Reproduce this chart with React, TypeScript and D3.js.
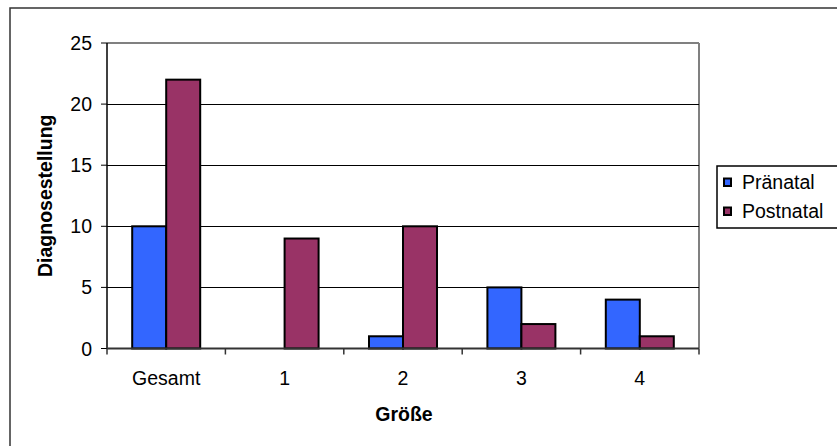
import React from "react";
import * as d3 from "d3";

const categories = ["Gesamt", "1", "2", "3", "4"];
const praenatal = [10, 0, 1, 5, 4];
const postnatal = [22, 9, 10, 2, 1];
const seriesNames = ["Pränatal", "Postnatal"];
const seriesColors = ["#3366FF", "#993366"];
const yTicks = [0, 5, 10, 15, 20, 25];

const W = 837;
const H = 446;
const FONT = "'Liberation Sans', Arial, sans-serif";

const App = () => {
  const left = 107;
  const right = 699;
  const top = 43;
  const bottom = 348.5;

  const x = d3.scaleBand().domain(categories).range([left, right]);
  const y = d3.scaleLinear().domain([0, 25]).range([bottom, top]);
  const barW = 34;
  const inner = d3
    .scaleBand()
    .domain(seriesNames)
    .range([-barW, barW]);

  const values = [praenatal, postnatal];
  const boundaries = categories.map((c) => x(c)).concat([right]);

  return (
    <svg width={W} height={H} style={{ position: "absolute", left: 0, top: 0, background: "#fff" }}>
      <rect x={0} y={0} width={W} height={H} fill="#fff" />
      {/* outer frame */}
      <rect x={10} y={8} width={W + 20} height={H + 20} fill="none" stroke="#333" strokeWidth={1.5} />

      {/* plot border top/right */}
      <line x1={left} x2={right} y1={top} y2={top} stroke="#808080" strokeWidth={2} />
      <line x1={right} x2={right} y1={top} y2={bottom} stroke="#808080" strokeWidth={2} />

      {/* gridlines */}
      {yTicks
        .filter((t) => t > 0 && t < 25)
        .map((t) => (
          <line key={t} x1={left} x2={right} y1={Math.round(y(t)) + 0.5} y2={Math.round(y(t)) + 0.5} stroke="#000" strokeWidth={1} />
        ))}

      {/* bars */}
      {seriesNames.map((s, si) =>
        categories.map((c, ci) => {
          const cx = x(c) + x.bandwidth() / 2;
          const v = values[si][ci];
          if (v === 0) return null;
          return (
            <rect
              key={s + c}
              x={cx + inner(s)}
              y={y(v)}
              width={inner.bandwidth()}
              height={bottom - y(v)}
              fill={seriesColors[si]}
              stroke="#000"
              strokeWidth={2}
            />
          );
        })
      )}

      {/* y axis */}
      <line x1={left} x2={left} y1={top} y2={bottom} stroke="#000" strokeWidth={1.5} />
      {yTicks.map((t) => (
        <g key={t}>
          <line x1={left - 6} x2={left} y1={y(t)} y2={y(t)} stroke="#000" strokeWidth={1} />
          <text x={92} y={y(t)} dy="0.36em" textAnchor="end" fontFamily={FONT} fontSize={19.5} fill="#000">
            {t}
          </text>
        </g>
      ))}

      {/* x axis */}
      <line x1={left} x2={right} y1={bottom} y2={bottom} stroke="#333" strokeWidth={2} />
      {boundaries.map((b, i) => (
        <line key={i} x1={b} x2={b} y1={bottom} y2={bottom + 6} stroke="#333" strokeWidth={1.5} />
      ))}
      {categories.map((c) => (
        <text key={c} x={x(c) + x.bandwidth() / 2} y={385} textAnchor="middle" fontFamily={FONT} fontSize={19.5} fill="#000">
          {c}
        </text>
      ))}

      {/* axis titles */}
      <text x={404} y={421} textAnchor="middle" fontFamily={FONT} fontSize={19.5} fontWeight="bold" fill="#000">
        Größe
      </text>
      <text
        transform={`translate(52,${(top + bottom) / 2}) rotate(-90)`}
        textAnchor="middle"
        fontFamily={FONT}
        fontSize={19.5}
        fontWeight="bold"
        fill="#000"
      >
        Diagnosestellung
      </text>

      {/* legend */}
      <rect x={717} y={166} width={140} height={62} fill="#fff" stroke="#000" strokeWidth={1.5} />
      {seriesNames.map((s, i) => (
        <g key={s}>
          <rect x={724} y={178.5 + i * 29} width={7} height={7.5} fill={seriesColors[i]} stroke="#000" strokeWidth={2} />
          <text x={742} y={189 + i * 29} fontFamily={FONT} fontSize={19.5} fill="#000">
            {s}
          </text>
        </g>
      ))}
    </svg>
  );
};

export default App;
